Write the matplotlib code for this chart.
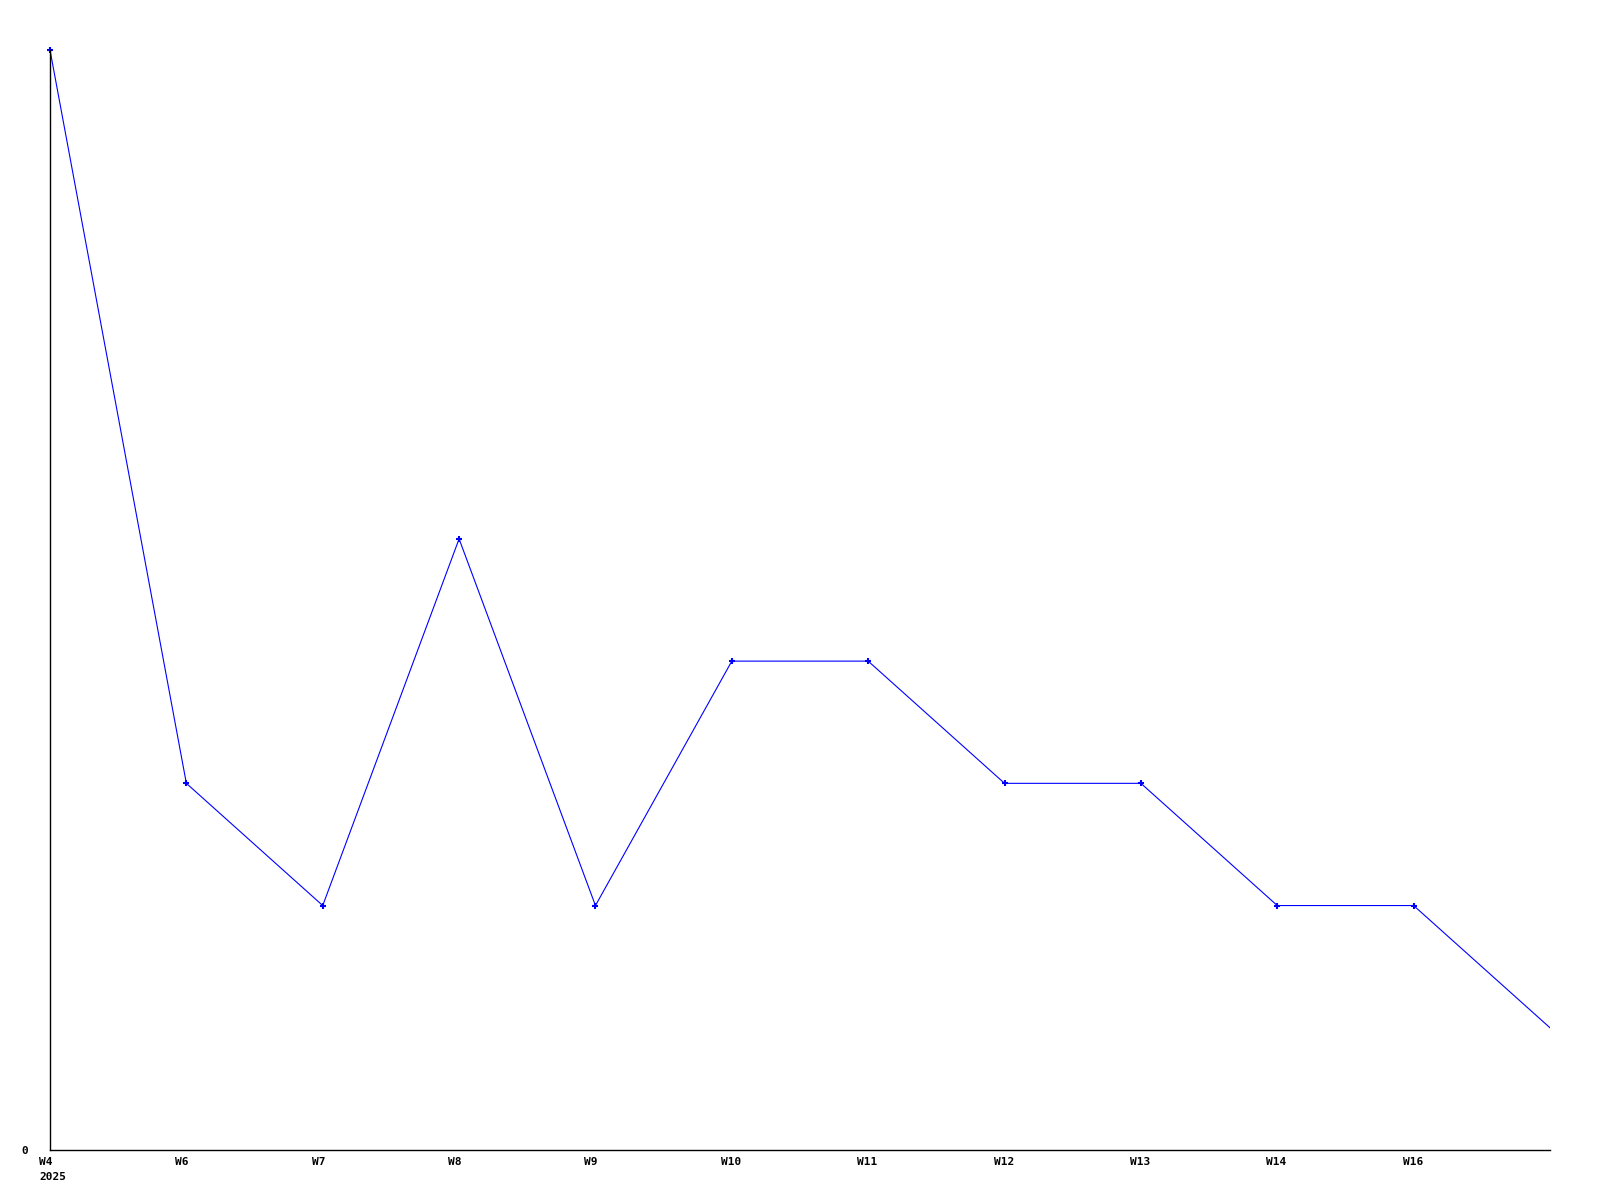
import matplotlib.pyplot as plt

# weekly counts
weeks = ['W4', 'W6', 'W7', 'W8', 'W9', 'W10', 'W11', 'W12', 'W13', 'W14', 'W16', 'W17']
counts = [9, 3, 2, 5, 2, 4, 4, 3, 3, 2, 2, 1]
tick_labels = ['W4\n2025', 'W6', 'W7', 'W8', 'W9', 'W10', 'W11', 'W12', 'W13', 'W14', 'W16', '']

fig = plt.figure(figsize=(16, 12), dpi=100)
ax = fig.add_axes([50 / 1600, 50 / 1200, 1500 / 1600, 1100 / 1200])

x = list(range(len(weeks)))
ax.plot(x, counts, color='#0000ff', linewidth=0.8)
# last point sits on the right border and has no visible marker
ax.plot(x[:-1], counts[:-1], linestyle='none', marker='+', markersize=4,
        markeredgewidth=1.5, color='#0000ff', clip_on=False)

ax.set_xlim(0, len(weeks) - 1)
ax.set_ylim(0, 9)

# x labels are left aligned, starting a little before each tick
ax.set_xticks(x)
ax.set_xticklabels([])
for xi, lab in zip(x, tick_labels):
    ax.annotate(lab, xy=(xi, 0), xycoords=('data', 'axes fraction'),
                xytext=(-11, -7), textcoords='offset pixels',
                ha='left', va='top', multialignment='left', linespacing=1.6,
                family='DejaVu Sans Mono', fontweight='bold', fontsize=8)

ax.set_yticks([0])
ax.set_yticklabels(['0'], family='DejaVu Sans Mono', fontweight='bold', fontsize=8)
ax.tick_params(axis='both', length=0)
ax.tick_params(axis='y', pad=16)

for side in ['top', 'right']:
    ax.spines[side].set_visible(False)
for side in ['left', 'bottom']:
    ax.spines[side].set_linewidth(1)
    ax.spines[side].set_color('black')

fig.savefig('out.png', dpi=100)
